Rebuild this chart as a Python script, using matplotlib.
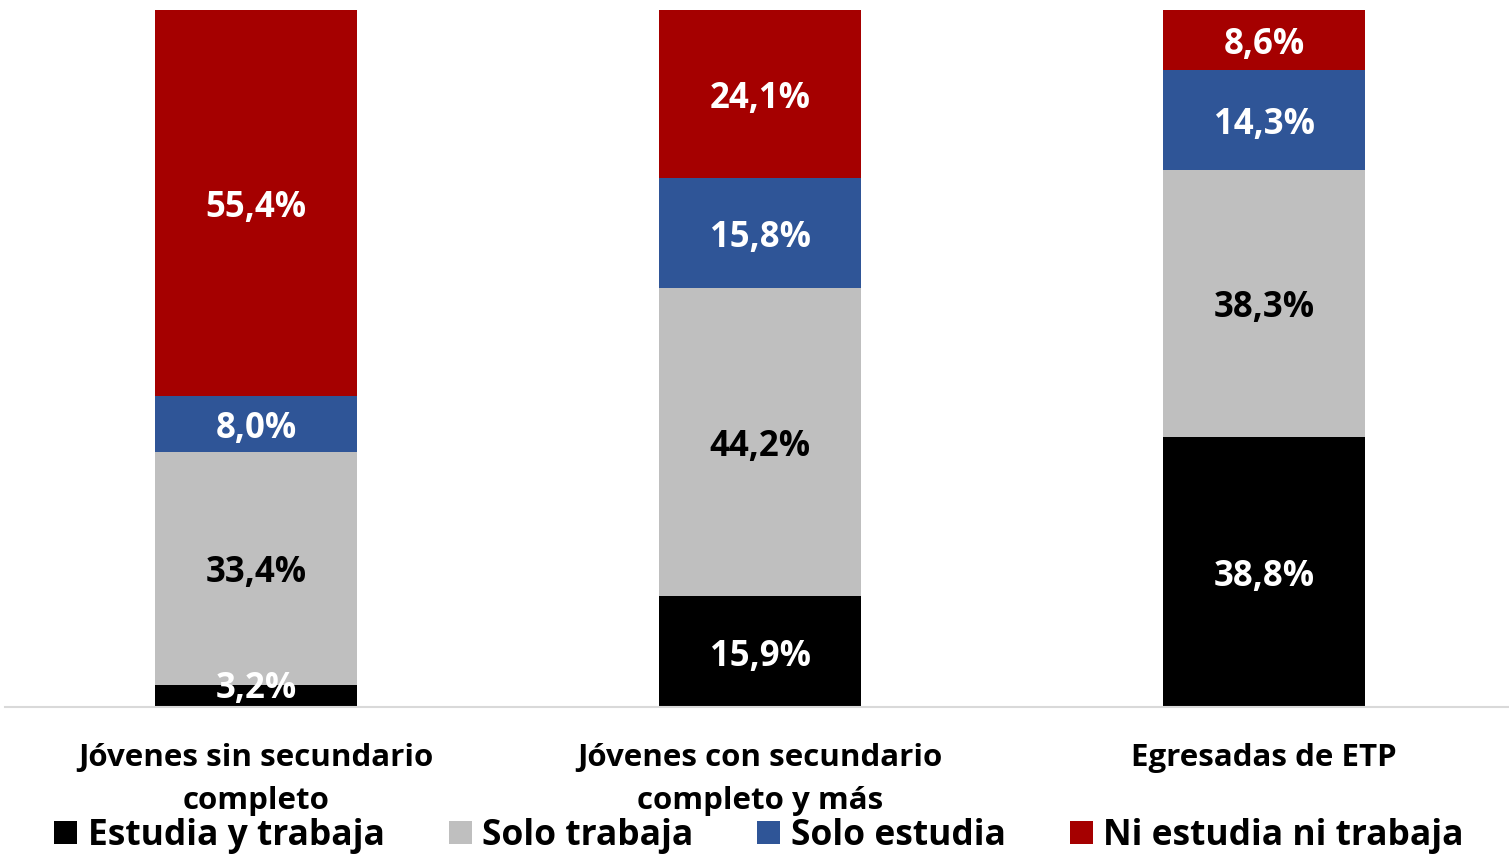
import matplotlib
matplotlib.use("Agg")
import matplotlib.pyplot as plt
import matplotlib.transforms as mtransforms
import numpy as np

categories = ["Jóvenes sin secundario\ncompleto", "Jóvenes con secundario\ncompleto y más", "Egresadas de ETP"]
series_names = ["Estudia y trabaja", "Solo trabaja", "Solo estudia", "Ni estudia ni trabaja"]
estudia_y_trabaja = [3.2, 15.9, 38.8]
solo_trabaja = [33.4, 44.2, 38.3]
solo_estudia = [8.0, 15.8, 14.3]
ni_estudia_ni_trabaja = [55.4, 24.1, 8.6]

series = [estudia_y_trabaja, solo_trabaja, solo_estudia, ni_estudia_ni_trabaja]
colors = ["#000000", "#BFBFBF", "#2F5597", "#A50000"]
label_colors = ["white", "black", "white", "white"]

plt.rcParams['font.family'] = ['Open Sans', 'DejaVu Sans']
plt.rcParams['font.weight'] = 'bold'

W, H = 1509, 857
fig = plt.figure(figsize=(W/100, H/100), dpi=100)
ax = fig.add_axes([5/W, (H-707)/H, 1504/W, 697/H])

offset = mtransforms.ScaledTranslation(0, -5/100, fig.dpi_scale_trans)
x = np.arange(len(categories))
bottom = np.zeros(len(categories))
for vals, c, lc, name in zip(series, colors, label_colors, series_names):
    vals = np.array(vals)
    ax.bar(x, vals, width=0.4, bottom=bottom, color=c, label=name)
    for xi, v, b in zip(x, vals, bottom):
        ypos = max(b + v/2, 3.3)
        ax.text(xi, ypos, f"{v:.1f}".replace(".", ",") + "%", ha="center", va="center",
                color=lc, fontsize=25, fontweight="bold", transform=ax.transData + offset)
    bottom += vals

ax.set_xlim(-0.498, 2.486)
ax.set_ylim(0, 100)
for s in ["top", "right", "left"]:
    ax.spines[s].set_visible(False)
ax.spines["bottom"].set_color("#D9D9D9")
ax.spines["bottom"].set_linewidth(1.5)
ax.set_yticks([])
ax.set_xticks(x)
ax.set_xticklabels(categories, fontsize=22.5, fontweight="bold", linespacing=1.55)
ax.tick_params(axis="x", length=0, pad=26)

leg = fig.legend(loc="center", bbox_to_anchor=(0.503, 1 - 836/H), ncol=4, frameon=False,
                 handlelength=0.65, handleheight=0.65, handletextpad=0.3,
                 columnspacing=1.8, prop={'weight': 'bold', 'size': 25.5})

fig.savefig("out.png", dpi=100)
